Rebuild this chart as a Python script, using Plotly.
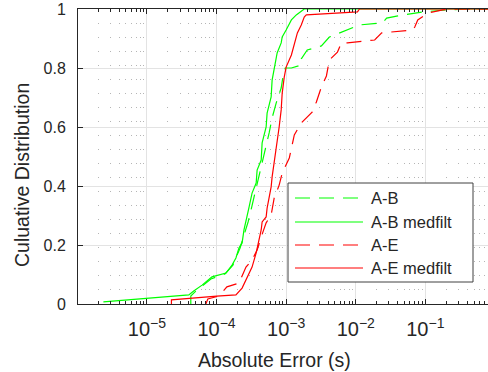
import plotly.graph_objects as go

# ---- data (x: absolute error in s, y: cumulative fraction) ----
ab_x = [4.27e-5, 4.27e-5, 5.05e-5, 6.2e-5, 8.3e-5, 1.32e-4, 1.72e-4, 2.18e-4, 2.57e-4, 2.84e-4,
        3.13e-4, 3.58e-4, 4.09e-4, 4.52e-4, 4.99e-4, 5.70e-4, 6.29e-4, 7.19e-4, 8.49e-4, 9.08e-4,
        9.71e-4, 1.19e-3, 1.65e-3, 1.65e-3, 2.01e-3, 3.21e-3, 4.18e-3, 7.35e-3, 1.13e-2, 2.43e-2,
        2.78e-2, 3.87e-2, 9.18e-2, 0.204, 0.396, 1.0]
ab_y = [0.0, 0.027, 0.044, 0.061, 0.085, 0.102, 0.132, 0.190, 0.241, 0.278,
        0.319, 0.376, 0.431, 0.478, 0.522, 0.580, 0.631, 0.681, 0.732, 0.776,
        0.800, 0.800, 0.810, 0.831, 0.861, 0.875, 0.905, 0.929, 0.946, 0.953,
        0.969, 0.976, 0.990, 0.997, 1.0, 1.0]

abm_x = [2.37e-6, 4.0e-5, 4.7e-5, 6.2e-5, 8.6e-5, 1.37e-4, 1.67e-4, 1.90e-4, 2.10e-4, 2.33e-4,
         2.48e-4, 2.75e-4, 2.94e-4, 3.24e-4, 3.71e-4, 3.83e-4, 4.38e-4, 4.52e-4, 5.16e-4, 5.33e-4,
         6.09e-4, 6.29e-4, 6.73e-4, 7.43e-4, 8.49e-4, 8.78e-4, 1.00e-3, 1.19e-3, 1.40e-3, 1.71e-3,
         1.82e-3, 1.0]
abm_y = [0.007, 0.031, 0.044, 0.064, 0.092, 0.105, 0.132, 0.156, 0.190, 0.207,
         0.251, 0.295, 0.329, 0.376, 0.410, 0.454, 0.488, 0.546, 0.600, 0.647,
         0.702, 0.759, 0.800, 0.851, 0.885, 0.905, 0.929, 0.963, 0.980, 0.997,
         1.0, 1.0]

ae_x = [7.03e-5, 7.5e-5, 1.08e-4, 1.41e-4, 2.10e-4, 2.65e-4, 3.24e-4, 3.83e-4, 4.38e-4, 5.16e-4,
        6.09e-4, 6.73e-4, 7.94e-4, 8.78e-4, 1.11e-3, 1.19e-3, 1.31e-3, 1.65e-3, 2.38e-3, 2.72e-3,
        3.21e-3, 3.79e-3, 4.18e-3, 5.46e-3, 6.23e-3, 7.61e-3, 1.87e-2, 2.36e-2, 6.59e-2, 7.05e-2,
        7.78e-2, 0.108, 0.178, 0.266, 1.0]
ae_y = [0.0, 0.017, 0.027, 0.058, 0.071, 0.125, 0.149, 0.183, 0.227, 0.275,
        0.302, 0.359, 0.403, 0.444, 0.495, 0.529, 0.573, 0.614, 0.651, 0.685,
        0.736, 0.773, 0.827, 0.854, 0.885, 0.885, 0.895, 0.919, 0.929, 0.939,
        0.963, 0.986, 0.997, 1.0, 1.0]

aem_x = [2.25e-5, 2.25e-5, 1.01e-4, 1.90e-4, 2.33e-4, 2.75e-4, 3.24e-4, 3.71e-4, 4.09e-4, 4.38e-4,
         4.52e-4, 5.16e-4, 5.33e-4, 5.70e-4, 6.09e-4, 6.29e-4, 6.73e-4, 7.19e-4, 7.43e-4, 7.94e-4,
         8.49e-4, 8.78e-4, 9.39e-4, 1.00e-3, 1.19e-3, 1.31e-3, 1.45e-3, 1.65e-3, 1.82e-3, 1.95e-3,
         1.06e-2, 1.13e-2, 1.0]
aem_y = [0.0, 0.014, 0.027, 0.031, 0.054, 0.092, 0.125, 0.173, 0.217, 0.251,
         0.278, 0.295, 0.325, 0.363, 0.397, 0.431, 0.478, 0.522, 0.546, 0.600,
         0.658, 0.715, 0.769, 0.803, 0.844, 0.885, 0.919, 0.946, 0.973, 0.980,
         0.990, 1.0, 1.0]

names = ["A-B", "A-B medfilt", "A-E", "A-E medfilt"]
xs = [ab_x, abm_x, ae_x, aem_x]
ys = [ab_y, abm_y, ae_y, aem_y]
colors = ["#00ff00", "#00ff00", "#ff0000", "#ff0000"]
dashes = ["15px,9px", "solid", "15px,9px", "solid"]

FONT = "Liberation Sans, Arial, sans-serif"
TXT = "#262626"

# layout geometry in pixels
W, H = 488, 372
L, R, T, B = 78, 0, 9, 68
PW, PH = W - L - R, H - T - B


def px(xp):
    return (xp - L) / PW


def py(yp):
    return (H - B - yp) / PH


fig = go.Figure()
for n, x, y, c, d in zip(names, xs, ys, colors, dashes):
    fig.add_trace(go.Scatter(x=x, y=y, mode="lines", name=n, showlegend=False,
                             line=dict(color=c, width=1.2, dash=d)))

fig.update_layout(
    width=W, height=H,
    margin=dict(l=L, r=R, t=T, b=B),
    paper_bgcolor="white", plot_bgcolor="white",
    font=dict(family=FONT, size=16, color=TXT),
    showlegend=False,
    xaxis=dict(type="log", range=[-5.99, -0.1], dtick=1, exponentformat="power",
               showgrid=True, gridcolor="#e3e3e3", gridwidth=1,
               ticks="inside", ticklen=5, tickcolor=TXT,
               showline=True, linecolor=TXT, linewidth=1, mirror="allticks",
               zeroline=False, ticklabelstandoff=8,
               tickfont=dict(size=16, color=TXT),
               minor=dict(dtick="D1", showgrid=True, gridcolor="#b5b5b5",
                          griddash="1px,13px", gridwidth=1,
                          ticks="inside", ticklen=3, tickcolor=TXT)),
    yaxis=dict(range=[0, 1], dtick=0.2, showgrid=True, gridcolor="#e3e3e3",
               ticks="inside", ticklen=5, tickcolor=TXT,
               showline=True, linecolor=TXT, linewidth=1, mirror=False,
               zeroline=False, ticklabelstandoff=8,
               tickfont=dict(size=16, color=TXT)),
)

# axis titles
fig.add_annotation(text="Absolute Error (s)", xref="paper", yref="paper",
                   x=px(274), y=py(360), xanchor="center", yanchor="middle",
                   showarrow=False, font=dict(size=19.5, color=TXT, family=FONT))
fig.add_annotation(text="Culuative Distribution", xref="paper", yref="paper",
                   x=px(22), y=py(175), xanchor="center", yanchor="middle",
                   textangle=-90, showarrow=False, font=dict(size=19.5, color=TXT, family=FONT))

# legend box (MATLAB-style, long line samples)
fig.add_shape(type="rect", xref="paper", yref="paper",
              x0=px(288), x1=px(473), y0=py(282), y1=py(183),
              line=dict(color="#404040", width=1), fillcolor="white", layer="above")
leg_rows = [198, 222, 245, 268]
for n, c, d, ry in zip(names, colors, dashes, leg_rows):
    fig.add_shape(type="line", xref="paper", yref="paper",
                  x0=px(295), x1=px(363), y0=py(ry), y1=py(ry),
                  line=dict(color=c, width=1.2, dash=d), layer="above")
    fig.add_annotation(text=n, xref="paper", yref="paper", x=px(369), y=py(ry),
                       xanchor="left", yanchor="middle", showarrow=False,
                       font=dict(size=16.5, color=TXT, family=FONT))

fig.write_html("out.html")
